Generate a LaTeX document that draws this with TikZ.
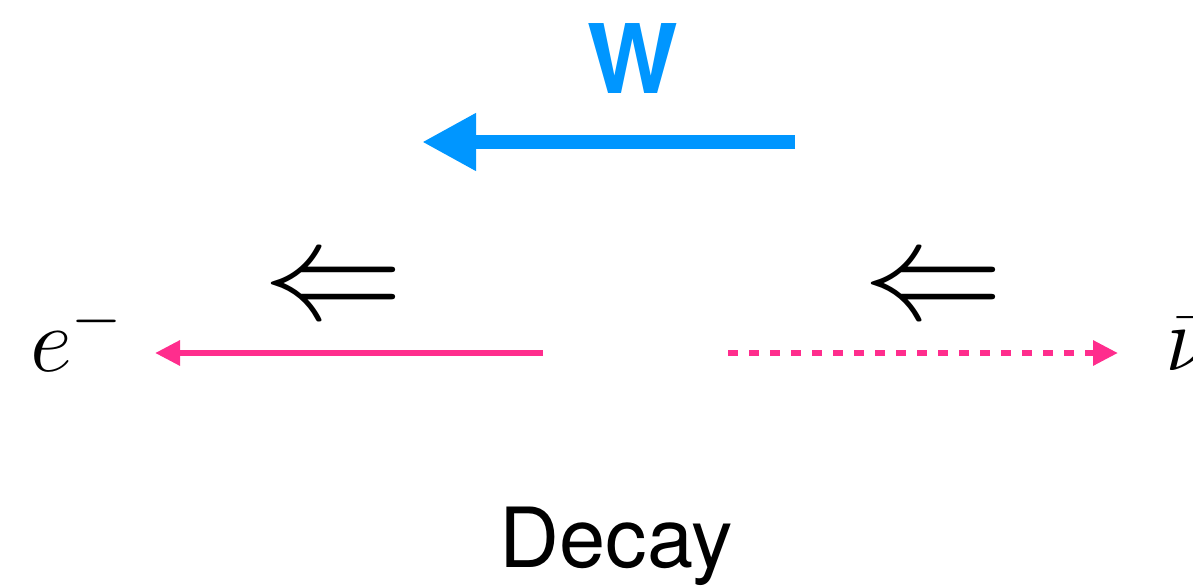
\RequirePackage{fix-cm}
\documentclass[tikz,border=0pt]{standalone}
\usepackage{fontspec}
\setsansfont{TeX Gyre Heros}
\usetikzlibrary{arrows.meta}
\definecolor{wblue}{HTML}{0096FF}
\definecolor{lepton}{HTML}{FF2D8D}
\tikzset{
  helicity/.style={inner sep=0pt, font=\fontsize{140}{150}\selectfont},
  particle/.style={inner sep=0pt, anchor=base west, font=\fontsize{92}{100}\selectfont},
  leptonline/.style={lepton, line width=6pt, -{Triangle[length=25pt,width=24pt]}}
}

\begin{document}
\begin{tikzpicture}[x=1pt, y=-1pt]
\useasboundingbox (0,0) rectangle (1193,586);
\node[inner sep=0pt, anchor=base, text=wblue, font=\fontsize{96}{100}\selectfont\sffamily\bfseries] (wlabel) at (633,93) {W};
\coordinate (wstart) at (795,142);
\coordinate (wend) at (422,142);
\draw[wblue, line width=14pt, -{Triangle[length=54pt,width=54pt]}] (wstart) -- (wend);

\node[helicity] (spinleft) at (333,293) {$\Leftarrow$};
\node[helicity] (spinright) at (933,293) {$\Leftarrow$};

\node[particle] (electron) at (30,371) {$e^-$};
\node[particle] (antinu) at (1165,370) {$\bar\nu$};

\coordinate (estart) at (543,353);
\coordinate (eend) at (155,353);
\coordinate (nustart) at (728,353);
\coordinate (nuend) at (1118,353);
\draw[leptonline] (estart) -- (eend);
\draw[leptonline, dash pattern=on 10pt off 11pt] (nustart) -- (nuend);

\node[inner sep=0pt, anchor=base, font=\fontsize{83}{90}\selectfont\sffamily] (caption) at (616,567) {Decay};
\end{tikzpicture}
\end{document}
